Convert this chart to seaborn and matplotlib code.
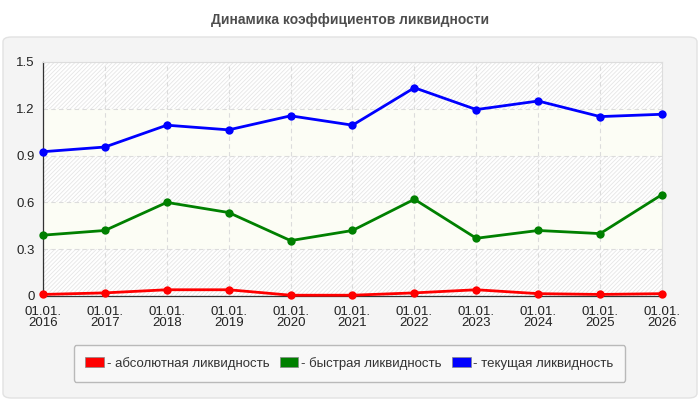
import pandas as pd
import matplotlib.pyplot as plt
import seaborn as sns
from matplotlib.patches import FancyBboxPatch, Patch

# ---- data ----
years = [2016, 2017, 2018, 2019, 2020, 2021, 2022, 2023, 2024, 2025, 2026]
absolute = [0.01, 0.02, 0.04, 0.04, 0.005, 0.005, 0.02, 0.04, 0.015, 0.01, 0.015]
quick = [0.39, 0.42, 0.60, 0.535, 0.355, 0.42, 0.62, 0.37, 0.42, 0.40, 0.65]
current = [0.925, 0.955, 1.095, 1.065, 1.155, 1.095, 1.335, 1.195, 1.25, 1.15, 1.165]

names = ["абсолютная ликвидность", "быстрая ликвидность", "текущая ликвидность"]
colors = ["#ff0000", "#008000", "#0000ff"]
yticks = [0, 0.3, 0.6, 0.9, 1.2, 1.5]
ytick_labels = ["0", "0.3", "0.6", "0.9", "1.2", "1.5"]
xtick_labels = [f"01.01.\n{y}" for y in years]

df = pd.DataFrame({
    "year": years * 3,
    "value": absolute + quick + current,
    "series": [names[0]] * len(years) + [names[1]] * len(years) + [names[2]] * len(years),
})

sns.set_style("white")
plt.rcParams["font.family"] = ["Liberation Sans", "DejaVu Sans"]
plt.rcParams["hatch.linewidth"] = 0.6

fig = plt.figure(figsize=(7, 4), dpi=100)
fig.patch.set_facecolor("white")

# grey rounded panel behind everything
panel = FancyBboxPatch((3 / 700, 2 / 400), 694 / 700, 361 / 400,
                       boxstyle="round,pad=0,rounding_size=0.012",
                       transform=fig.transFigure, facecolor="#f4f4f4",
                       edgecolor="#e2e2e2", linewidth=1, zorder=-10)
fig.add_artist(panel)

fig.text(0.5, 1 - 20 / 400, "Динамика коэффициентов ликвидности",
         ha="center", va="center", fontsize=10, fontweight="bold", color="#4d4d4d")

ax = fig.add_axes([43 / 700, 1 - 296 / 400, 619 / 700, 234 / 400])
ax.set_facecolor("#fdfdf8")

# alternating hatched bands
for i in range(5):
    lo, hi = yticks[i], yticks[i + 1]
    if i % 2 == 0:
        ax.axhspan(lo, hi, facecolor="#ffffff", edgecolor="#e6e6e6", hatch="////////",
                   linewidth=0, zorder=0)
    else:
        ax.axhspan(lo, hi, facecolor="#fcfdf5", linewidth=0, zorder=0)

sns.lineplot(data=df, x="year", y="value", hue="series", palette=colors,
             hue_order=names, marker="o", markersize=6, markeredgewidth=0,
             linewidth=2, legend=False, ax=ax, zorder=3)

ax.set_xlim(years[0], years[-1])
ax.set_ylim(0, 1.5)
ax.set_xticks(years)
ax.set_xticklabels(xtick_labels, fontsize=9.5, color="#222222", linespacing=0.9)
ax.set_yticks(yticks)
ax.set_yticklabels(ytick_labels, fontsize=9.5, color="#222222")
ax.set_xlabel("")
ax.set_ylabel("")
ax.grid(True, color="#dcdcdc", linestyle=(0, (4, 3)), linewidth=0.8, zorder=1)
ax.tick_params(axis="both", direction="out", length=4, width=0.8, color="#333333", pad=2)
ax.tick_params(axis="x", pad=3)
for line in ax.lines:
    line.set_clip_on(False)

for side in ["top", "right"]:
    ax.spines[side].set_color("#dddddd")
for side in ["left", "bottom"]:
    ax.spines[side].set_color("#333333")
    ax.spines[side].set_linewidth(0.9)

handles = [Patch(facecolor=c, edgecolor="#888888", linewidth=0.5) for c in colors]
leg = fig.legend(handles, ["- " + n for n in names], ncol=3,
                 bbox_to_anchor=(67 / 700, 1 - 382 / 400, 565 / 700, 37 / 400),
                 mode="expand", loc="center", fontsize=9.5, frameon=True,
                 handlelength=1.4, handleheight=0.8, handletextpad=0.2,
                 borderpad=0.9, fancybox=True)
leg.get_frame().set_facecolor("#fafafa")
leg.get_frame().set_edgecolor("#aaaaaa")
for t in leg.get_texts():
    t.set_color("#333333")

fig.savefig("out.png", dpi=100)
